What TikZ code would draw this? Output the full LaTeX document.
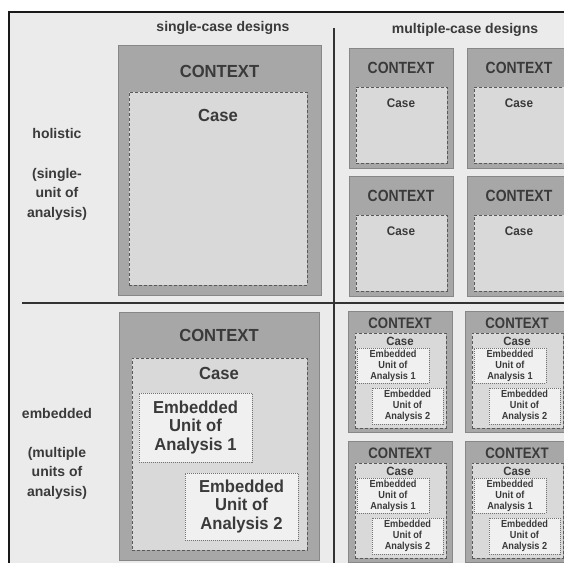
\documentclass[tikz,border=0pt]{standalone}
\usepackage{fontspec}
\setmainfont{Liberation Sans}
\usetikzlibrary{fit}
\definecolor{bgc}{HTML}{EBEBEB}
\definecolor{ctxc}{HTML}{A7A7A7}
\definecolor{ctxd}{HTML}{878787}
\definecolor{casec}{HTML}{D9D9D9}
\definecolor{eucol}{HTML}{F0F0F0}
\definecolor{txtc}{HTML}{3A3A3A}
\tikzset{
  frameline/.style={line width=2pt, draw=black!90},
  divline/.style={line width=1.6pt, draw=black!80},
  ctxbox/.style={fill=ctxc, draw=ctxd, line width=0.8pt, inner sep=0pt},
  casebox/.style={fill=casec, draw=black!65, line width=0.9pt, dash pattern=on 3pt off 2pt, inner sep=0pt},
  eubox/.style={fill=eucol, draw=black!55, line width=0.8pt, dash pattern=on 1pt off 1pt, inner sep=0pt},
  txt/.style={text=txtc, inner sep=0pt, align=center, font=\bfseries},
  hdr/.style={txt, font=\fontsize{14}{16}\selectfont\bfseries},
  rowlbl/.style={txt, font=\fontsize{14}{19.5}\selectfont\bfseries},
  bigctx/.style={txt, font=\fontsize{17.5}{19}\selectfont\bfseries\addfontfeature{FakeStretch=0.95}},
  bigeu/.style={txt, font=\fontsize{17.3}{18.3}\selectfont\bfseries\addfontfeature{FakeStretch=0.96}},
  mctx/.style={txt, font=\fontsize{16.2}{17}\selectfont\bfseries\addfontfeature{FakeStretch=0.86}},
  mcase/.style={txt, font=\fontsize{12.5}{13}\selectfont\bfseries\addfontfeature{FakeStretch=0.94}},
  ectx/.style={txt, font=\fontsize{15.2}{16}\selectfont\bfseries\addfontfeature{FakeStretch=0.87}},
  ecase/.style={txt, font=\fontsize{12}{13}\selectfont\bfseries\addfontfeature{FakeStretch=0.95}},
  eeu/.style={txt, font=\fontsize{10.2}{11.1}\selectfont\bfseries\addfontfeature{FakeStretch=0.9}},
}
\begin{document}
\begin{tikzpicture}[x=1pt,y=-1pt]
\useasboundingbox (0,0) rectangle (564,562);
\clip (0,0) rectangle (564,562);
\fill[white] (0,0) rectangle (564,562);
% frame
\coordinate (tl) at (9,12);
\coordinate (tr) at (570,12);
\coordinate (bl) at (9,570);
\fill[bgc] (tl) rectangle (570,570);
\draw[frameline] (tr) -- (tl) -- (bl);
% dividers
\coordinate (vt) at (334,28);
\coordinate (vb) at (334,570);
\coordinate (hl) at (22,303);
\coordinate (hr) at (570,303);
\draw[divline] (vt) -- (vb);
\draw[divline, line width=2pt] (hl) -- (hr);
% headers
\node[hdr] (h1) at (223,28) {single-case designs};
\node[hdr] (h2) at (465,30) {multiple-case designs};
% row labels
\node[rowlbl] (r1) at (57,133) {holistic};
\node[rowlbl] (r1b) at (57,194) {(single-\\unit of\\analysis)};
\node[rowlbl] (r2) at (57,413) {embedded};
\node[rowlbl] (r2b) at (57,473) {(multiple\\units of\\analysis)};
% single-case holistic
\node[ctxbox, fit={(118,45) (321,295)}] (sctx) {};
\node[casebox, fit={(129,92) (307,285)}] (scase) {};
\node[bigctx] (sctxl) at (219.5,71) {CONTEXT};
\node[bigctx] (scasel) at (218,115) {Case};
% single-case embedded
\node[ctxbox, fit={(119,312) (319,560)}] (ectx) {};
\node[casebox, fit={(132,358) (307,550)}] (ecase) {};
\node[bigctx] (ectxl) at (219,335) {CONTEXT};
\node[bigctx] (ecasel) at (219,373) {Case};
\node[eubox, fit={(139,393) (252,462)}] (eu1) {};
\node[bigeu] (eu1l) at (eu1.center) {Embedded\\Unit of\\Analysis 1};
\node[eubox, fit={(185,473) (298,540)}] (eu2) {};
\node[bigeu] (eu2l) at (eu2.center) {Embedded\\Unit of\\Analysis 2};
% multiple-case holistic
\foreach \n/\x/\y in {a/349/48, b/467/48, c/349/176, d/467/176} {
  \node[ctxbox, fit={(\x,\y) (\x+104,\y+120)}] (mt\n) {};
  \node[casebox, fit={(\x+7,\y+39) (\x+98,\y+115)}] (mtc\n) {};
  \node[mctx] (mtl\n) at (\x+52,\y+20) {CONTEXT};
  \node[mcase] (mtk\n) at (\x+52,\y+55) {Case};
}
% multiple-case embedded
\foreach \n/\x/\y in {a/348/311, b/465/311, c/348/441, d/465/441} {
  \node[ctxbox, fit={(\x,\y) (\x+104,\y+121)}] (me\n) {};
  \node[casebox, fit={(\x+7,\y+22) (\x+98,\y+117)}] (mec\n) {};
  \node[ectx] (mel\n) at (\x+52,\y+12) {CONTEXT};
  \node[ecase] (mek\n) at (\x+52,\y+30) {Case};
  \node[eubox, fit={(\x+9,\y+37) (\x+81,\y+72)}] (meu\n) {};
  \node[eeu] (meul\n) at (meu\n.center) {Embedded\\Unit of\\Analysis 1};
  \node[eubox, fit={(\x+24,\y+77) (\x+95,\y+113)}] (mev\n) {};
  \node[eeu] (mevl\n) at (mev\n.center) {Embedded\\Unit of\\Analysis 2};
}
\end{tikzpicture}
\end{document}
